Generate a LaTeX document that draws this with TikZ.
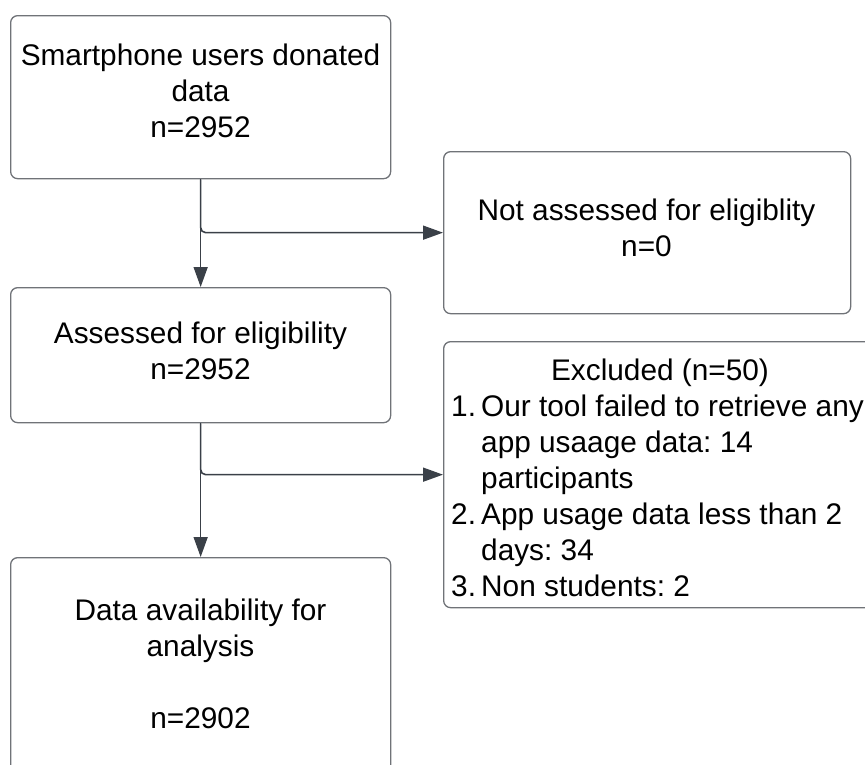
\documentclass[tikz,border=0pt]{standalone}
\usepackage{fontspec}
\setmainfont{Liberation Sans}
\usetikzlibrary{arrows.meta}
\definecolor{boxline}{RGB}{112,115,120}
\definecolor{arrowline}{RGB}{58,64,72}
\frenchspacing
\begin{document}
\begin{tikzpicture}[x=1pt,y=-1pt,
  boxnode/.style={draw=boxline, line width=1.3pt, rounded corners=7pt, fill=white, inner sep=0pt, anchor=north west},
  txt/.style={anchor=base, inner sep=0pt, font=\fontsize{29.8}{36}\selectfont\frenchspacing},
  conn/.style={draw=arrowline, line width=1.6pt},
  tip/.style={-{Triangle[length=20pt,width=14pt]}}]
\useasboundingbox (0,0) rectangle (865,764);
\clip (0,0) rectangle (865,764);
% boxes
\node[boxnode, minimum width=380pt, minimum height=163pt] (b1) at (10,15) {};
\node[boxnode, minimum width=407pt, minimum height=162pt] (b2) at (443,151) {};
\node[boxnode, minimum width=380pt, minimum height=135pt] (b3) at (10,287) {};
\node[boxnode, minimum width=440pt, minimum height=266pt] (b4) at (443,341) {};
\node[boxnode, minimum width=380pt, minimum height=260pt] (b5) at (10,557) {};
% texts
\node[txt] (t1) at (200.5,65) {\begin{tabular}[t]{@{}c@{}}Smartphone users donated\\data\\n=2952\end{tabular}};
\node[txt] (t2) at (646.5,220) {\begin{tabular}[t]{@{}c@{}}Not assessed for eligiblity\\n=0\end{tabular}};
\node[txt] (t3) at (200.5,343) {\begin{tabular}[t]{@{}c@{}}Assessed for eligibility\\n=2952\end{tabular}};
\node[txt] (t4a) at (660,380) {Excluded (n=50)};
\node[txt, anchor=base west] (t4b) at (451,416) {\begin{tabular}[t]{@{}l@{}}\makebox[30pt][l]{1.}Our tool failed to retrieve any\\\hspace*{30pt}app usaage data: 14\\\hspace*{30pt}participants\\\makebox[30pt][l]{2.}App usage data less than 2\\\hspace*{30pt}days: 34\\\makebox[30pt][l]{3.}Non students: 2\end{tabular}};
\node[txt] (t5) at (200.5,620) {\begin{tabular}[t]{@{}c@{}}Data availability for\\analysis\\ \\n=2902\end{tabular}};
% connectors
\draw[conn, tip, rounded corners=5pt] (b1.south) |- (b2.west);
\draw[conn, tip] (b1.south) -- (b3.north);
\draw[conn, tip, rounded corners=5pt] (b3.south) |- (b4.west);
\draw[conn, tip] (b3.south) -- (b5.north);
\end{tikzpicture}
\end{document}
